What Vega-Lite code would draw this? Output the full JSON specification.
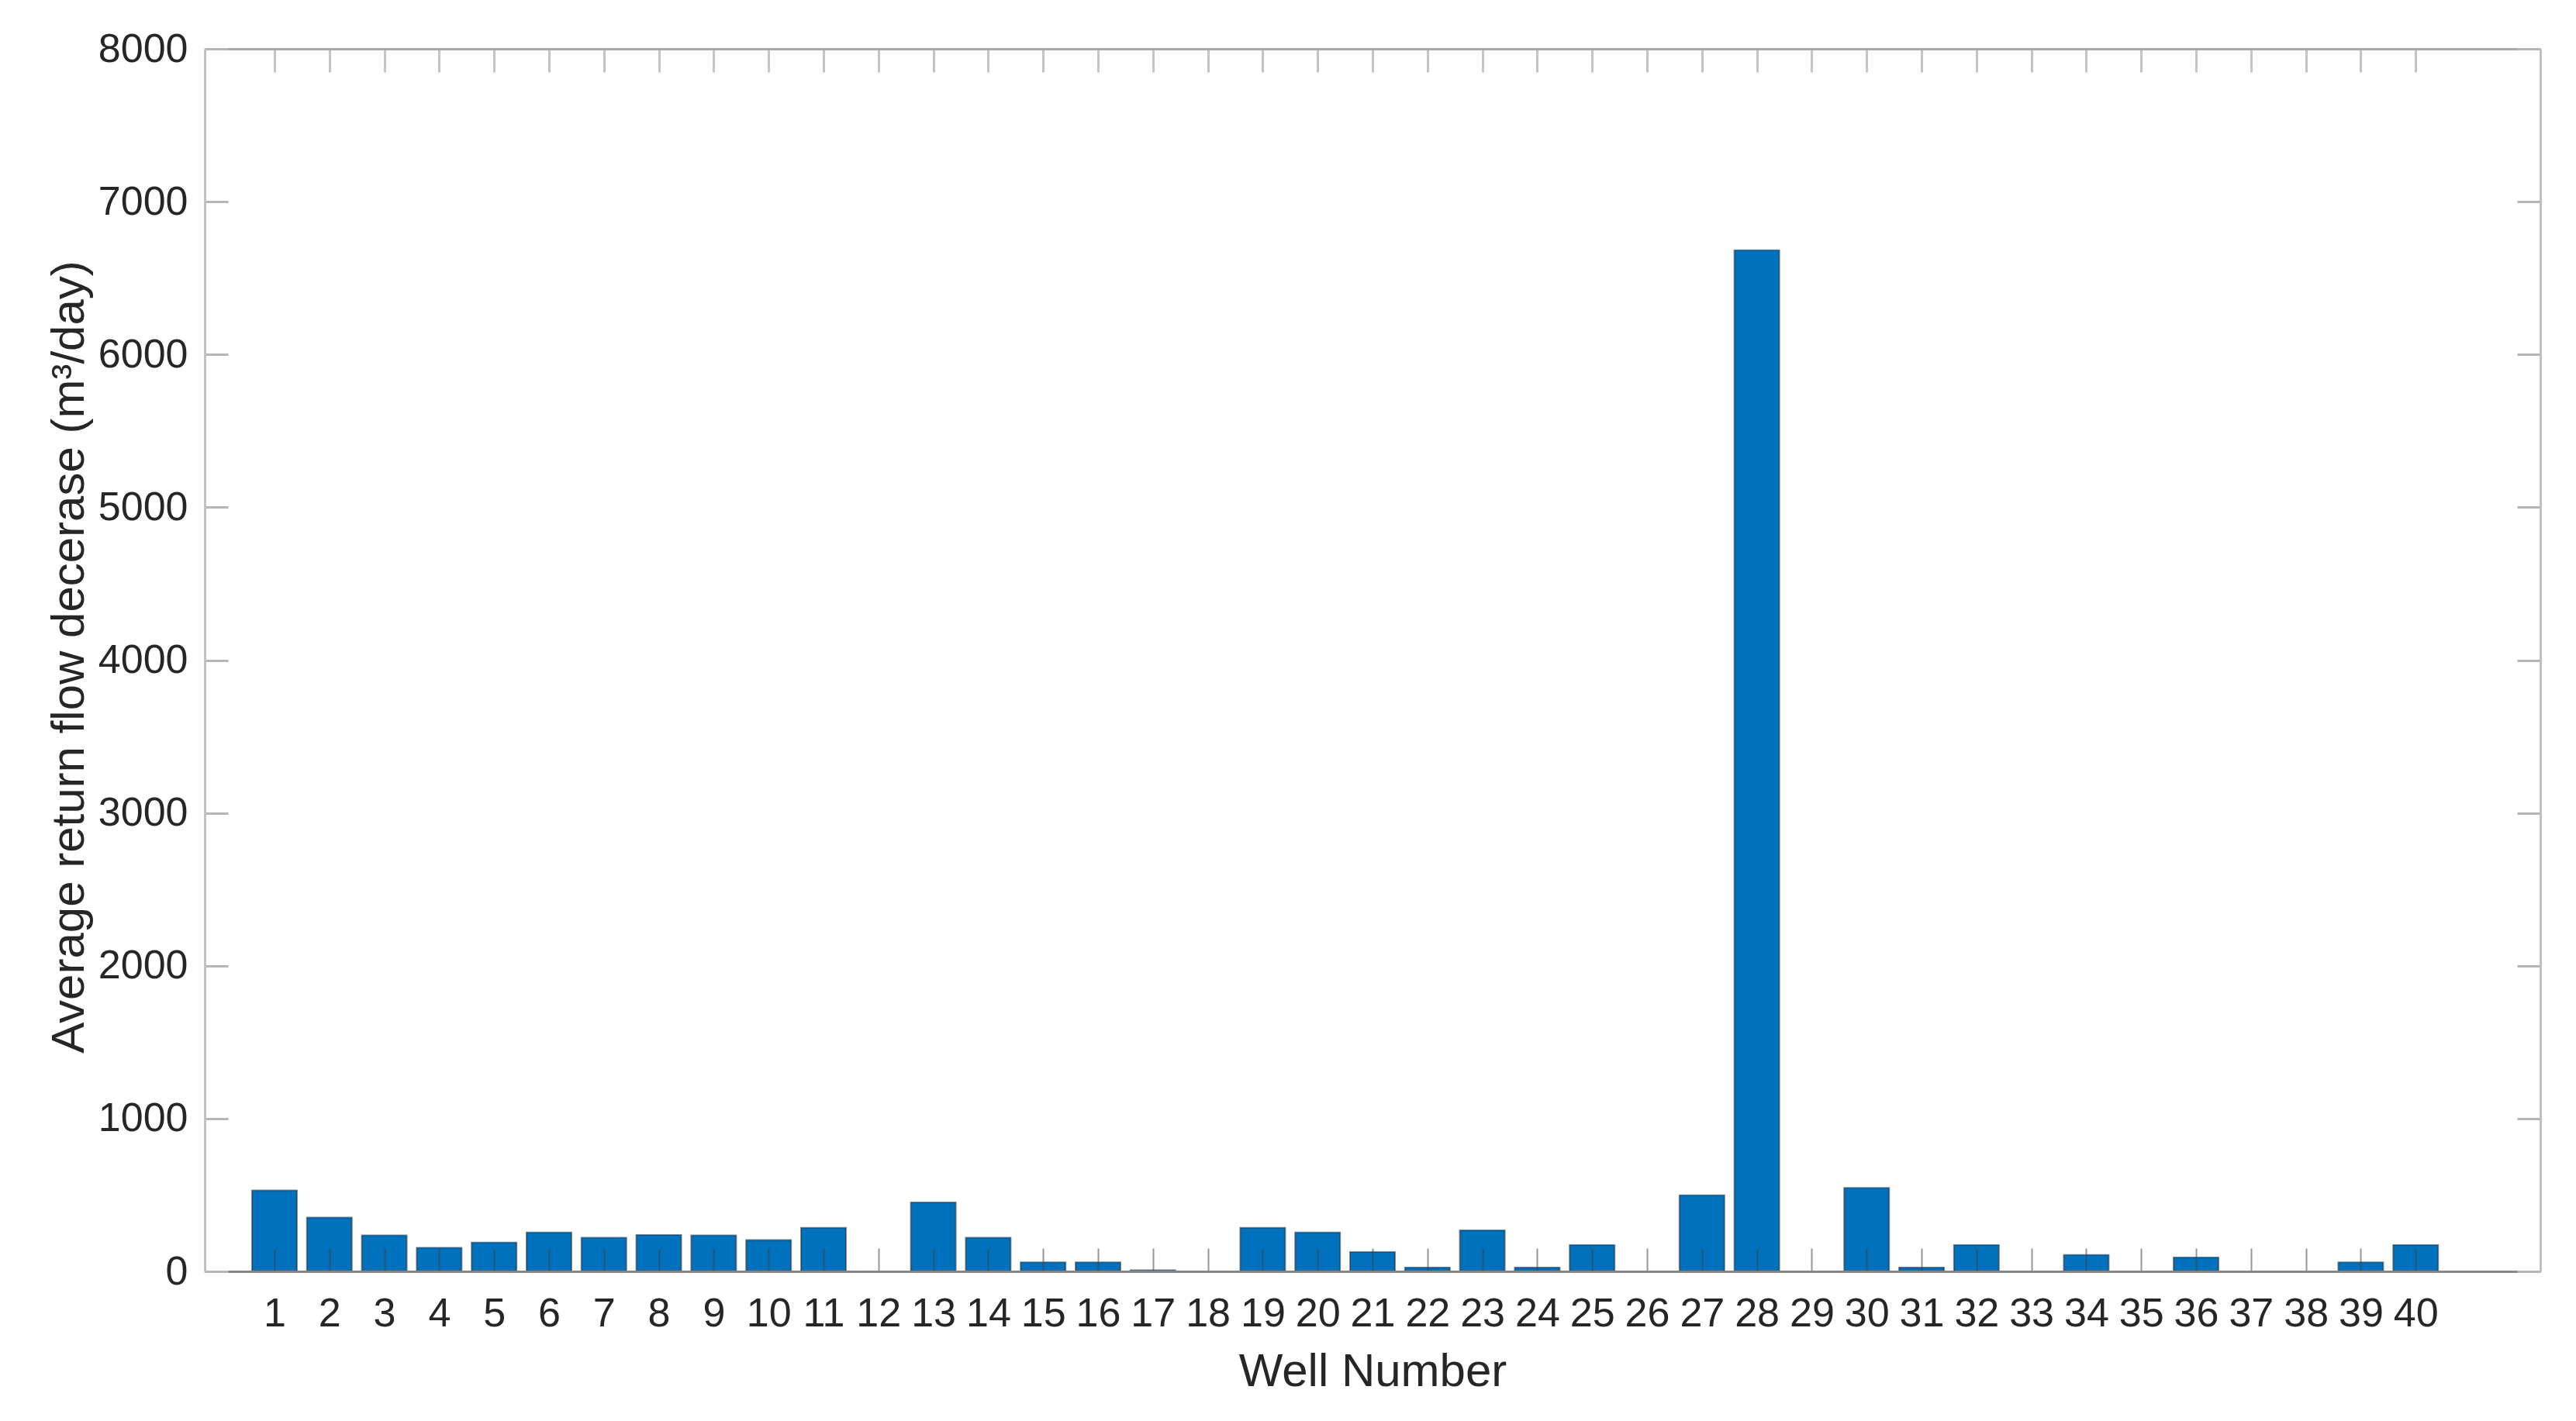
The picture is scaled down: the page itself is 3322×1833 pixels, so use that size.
{
  "$schema": "https://vega.github.io/schema/vega-lite/v6.json",
  "autosize": {"type": "none"},
  "width": 3012,
  "height": 1577,
  "padding": {"left": 264, "top": 63, "right": 46, "bottom": 193},
  "background": "white",
  "config": {
    "view": {"stroke": null},
    "font": "Liberation Sans"
  },
  "data": {
    "values": [
      {"well": 1, "value": 530},
      {"well": 2, "value": 353},
      {"well": 3, "value": 236},
      {"well": 4, "value": 155},
      {"well": 5, "value": 189},
      {"well": 6, "value": 255},
      {"well": 7, "value": 221},
      {"well": 8, "value": 238},
      {"well": 9, "value": 236},
      {"well": 10, "value": 206},
      {"well": 11, "value": 285},
      {"well": 12, "value": 0},
      {"well": 13, "value": 451},
      {"well": 14, "value": 221},
      {"well": 15, "value": 59},
      {"well": 16, "value": 59},
      {"well": 17, "value": 8},
      {"well": 18, "value": 0},
      {"well": 19, "value": 285},
      {"well": 20, "value": 255},
      {"well": 21, "value": 127},
      {"well": 22, "value": 25},
      {"well": 23, "value": 269},
      {"well": 24, "value": 25},
      {"well": 25, "value": 172},
      {"well": 26, "value": 0},
      {"well": 27, "value": 498},
      {"well": 28, "value": 6682},
      {"well": 29, "value": 0},
      {"well": 30, "value": 547},
      {"well": 31, "value": 25},
      {"well": 32, "value": 172},
      {"well": 33, "value": 0},
      {"well": 34, "value": 108},
      {"well": 35, "value": 0},
      {"well": 36, "value": 91},
      {"well": 37, "value": 0},
      {"well": 38, "value": 0},
      {"well": 39, "value": 59},
      {"well": 40, "value": 172}
    ]
  },
  "resolve": {"axis": {"x": "independent", "y": "independent"}},
  "layer": [
    {
      "mark": {"type": "bar", "size": 58, "color": "#0072BD", "stroke": "#2b2b2b", "strokeWidth": 2, "strokeOpacity": 0.55},
      "encoding": {
        "x": {
          "field": "well", "type": "quantitative",
          "scale": {"domain": [-0.2, 42.2], "nice": false, "zero": false},
          "axis": {
            "orient": "bottom",
            "values": [1,2,3,4,5,6,7,8,9,10,11,12,13,14,15,16,17,18,19,20,21,22,23,24,25,26,27,28,29,30,31,32,33,34,35,36,37,38,39,40],
            "format": "d",
            "title": "Well Number",
            "titleFontSize": 60,
            "titleFontWeight": "normal",
            "titleColor": "#262626",
            "titleBaseline": "alphabetic",
            "titleY": 147,
            "labelFontSize": 52,
            "labelColor": "#262626",
            "labelPadding": 59,
            "labelFlush": false,
            "labelOverlap": false,
            "labelBound": false,
            "grid": false,
            "domainColor": "#858585",
            "domainWidth": 3,
            "tickColor": "#404040",
            "tickOpacity": 0.55,
            "tickWidth": 2,
            "tickSize": -30,
            "zindex": 1
          }
        },
        "y": {
          "field": "value", "type": "quantitative",
          "scale": {"domain": [0, 8000], "nice": false},
          "axis": {
            "orient": "left",
            "values": [0,1000,2000,3000,4000,5000,6000,7000,8000],
            "format": "d",
            "title": "Average return flow decerase (m³/day)",
            "titleFontSize": 60,
            "titleFontWeight": "normal",
            "titleColor": "#262626",
            "titleAngle": -90,
            "titleBaseline": "alphabetic",
            "titleAlign": "center",
            "titleX": -157,
            "titleY": 784,
            "labelFontSize": 52,
            "labelColor": "#262626",
            "labelPadding": 52,
            "labelFlush": false,
            "labelOverlap": false,
            "labelBound": false,
            "grid": false,
            "domainColor": "#c0c0c0",
            "domainWidth": 3,
            "tickColor": "#b5b5b5",
            "tickWidth": 3,
            "tickSize": -30,
            "zindex": 1
          }
        }
      }
    },
    {
      "mark": {"type": "bar", "size": 58, "opacity": 0},
      "encoding": {
        "x": {
          "field": "well", "type": "quantitative",
          "axis": {
            "orient": "top",
            "values": [1,2,3,4,5,6,7,8,9,10,11,12,13,14,15,16,17,18,19,20,21,22,23,24,25,26,27,28,29,30,31,32,33,34,35,36,37,38,39,40],
            "labels": false,
            "title": null,
            "grid": false,
            "domainColor": "#a8a8a8",
            "domainWidth": 3,
            "tickColor": "#c4c4c4",
            "tickWidth": 3,
            "tickSize": -30,
            "zindex": 1
          }
        },
        "y": {
          "field": "value", "type": "quantitative",
          "axis": {
            "orient": "right",
            "values": [0,1000,2000,3000,4000,5000,6000,7000,8000],
            "labels": false,
            "title": null,
            "grid": false,
            "domainColor": "#c0c0c0",
            "domainWidth": 3,
            "tickColor": "#b5b5b5",
            "tickWidth": 3,
            "tickSize": -30,
            "zindex": 1
          }
        }
      }
    }
  ]
}
